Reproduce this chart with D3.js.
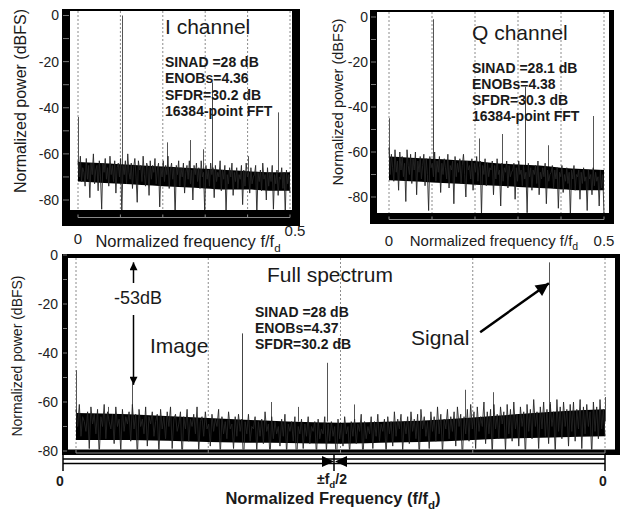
<!DOCTYPE html>
<html><head><meta charset="utf-8">
<script src="https://cdn.jsdelivr.net/npm/d3@7"></script>
<style>
body{margin:0;background:#fff;}
svg{display:block;font-family:"Liberation Sans",Arial,sans-serif;}
</style></head><body>
<svg id="c" width="626" height="511"></svg>
<script>
// ---------------- DATA ----------------
const yTicks = [0, -20, -40, -60, -80];
const minorYTicks = [0, -10, -20, -30, -40, -50, -60, -70, -80];
const halfGrid = [0, 0.1, 0.2, 0.3, 0.4, 0.5];
const fullGrid = [0, 0.25, 0.5, 0.75, 1];
const halfTickValues = [0, 0.5];
const halfTickLabels = ["0", "0.5"];
const fullAxisTicks = [0, 0.5, 1];
const envFreqHalf = [0, 0.05, 0.1, 0.15, 0.2, 0.25, 0.3, 0.35, 0.4, 0.45, 0.5];
const envFreqFull = [0, 0.1, 0.2, 0.3, 0.4, 0.5, 0.6, 0.7, 0.8, 0.9, 1];

// I channel
const iCoreTop = [-63.5, -64, -64.5, -65, -65.5, -66, -66.5, -67, -67.5, -68, -68];
const iCoreBot = [-72, -72.5, -73, -73.5, -74, -74.5, -75, -75.5, -75.5, -76, -76];
const iNoise = [
-63,-70,-61,-72,-66,-68,-74,-62,-71,-65,-79,-64,-69,-60,-73,-67,-65,-76,-63,-70,
-84,-64,-68,-62,-71,-66,-74,-61,-69,-65,-72,-63,-77,-66,-64,-70,-62,-86,-65,-69,
-63,-73,-60,-68,-71,-64,-75,-66,-62,-70,-81,-63,-67,-65,-72,-61,-69,-74,-64,-66,
-78,-63,-71,-65,-68,-62,-73,-67,-64,-83,-66,-70,-63,-72,-65,-69,-61,-75,-67,-64,
-71,-66,-88,-65,-69,-63,-74,-66,-70,-64,-77,-68,-65,-71,-63,-73,-67,-80,-65,-69,
-64,-72,-66,-75,-63,-70,-68,-85,-65,-71,-67,-74,-64,-69,-66,-79,-65,-72,-68,-70,
-63,-76,-67,-71,-65,-86,-69,-73,-66,-70,-64,-78,-68,-72,-66,-75,-69,-71,-65,-82,
-67,-74,-64,-70,-68,-77,-66,-73,-70,-69,-65,-87,-68,-72,-67,-76,-64,-71,-69,-80,
-66,-74,-68,-72,-65,-84,-69,-73,-67,-78,-70,-71,-66,-75,-68,-86,-67,-73,-69,-77];
const iSpurFreq = [0, 0.103, 0.21, 0.264, 0.295, 0.316, 0.40, 0.472];
const iSpurDb   = [-44, 0, -55, -54, -58, -29, -61, -42];
const iStats = ["SINAD =28 dB", "ENOBs=4.36", "SFDR=30.2 dB", "16384-point FFT"];

// Q channel
const qCoreTop = [-62, -62.5, -63, -63.5, -64, -65, -65.5, -66, -67, -67.5, -68];
const qCoreBot = [-72.5, -73, -73.5, -74, -74.5, -75, -75.5, -76, -76.5, -77, -77];
const qNoise = [
-58,-70,-61,-67,-73,-59,-69,-64,-77,-60,-68,-62,-71,-65,-82,-59,-66,-70,-61,-74,
-63,-68,-60,-79,-64,-69,-62,-72,-66,-61,-75,-63,-70,-86,-62,-67,-65,-71,-60,-73,
-64,-69,-62,-78,-65,-70,-63,-67,-72,-61,-76,-66,-68,-64,-83,-62,-71,-65,-69,-63,
-74,-66,-61,-70,-80,-64,-68,-66,-72,-63,-77,-65,-69,-62,-73,-67,-64,-88,-66,-70,
-63,-75,-65,-71,-67,-68,-64,-79,-66,-72,-63,-70,-68,-84,-65,-73,-67,-69,-64,-76,
-66,-71,-69,-68,-65,-81,-67,-73,-64,-70,-68,-75,-66,-72,-69,-87,-65,-71,-67,-77,
-68,-70,-66,-74,-64,-79,-69,-72,-67,-71,-65,-83,-68,-73,-70,-69,-66,-76,-68,-72,
-67,-85,-69,-71,-66,-78,-70,-73,-67,-74,-69,-89,-68,-72,-66,-77,-70,-71,-68,-81,
-69,-74,-67,-73,-71,-86,-68,-72,-70,-79,-67,-75,-69,-73,-71,-84,-68,-76,-70,-88];
const qSpurFreq = [0, 0.102, 0.102, 0.21, 0.262, 0.317, 0.37, 0.475];
const qSpurDb   = [-45, -1, -37, -54, -52, -31, -57, -44];
const qStats = ["SINAD =28.1 dB", "ENOBs=4.38", "SFDR=30.3 dB", "16384-point FFT"];

// Full spectrum
const fCoreTop = [-64.5, -65, -66, -67, -68, -68.5, -68, -67, -65.5, -64, -63];
const fCoreBot = [-75.5, -75.5, -76, -76.5, -76.7, -77, -76.5, -76, -75, -74.5, -74];
const fNoise = [
-63,-70,-61,-74,-66,-68,-72,-64,-79,-62,-69,-65,-73,-63,-82,-66,-70,-61,-75,-64,
-68,-71,-65,-77,-62,-70,-67,-80,-63,-72,-66,-69,-64,-76,-61,-71,-65,-83,-63,-70,
-67,-73,-62,-78,-66,-69,-64,-74,-68,-65,-81,-63,-71,-66,-75,-64,-70,-62,-79,-67,
-65,-72,-69,-64,-84,-66,-71,-63,-76,-67,-70,-65,-73,-62,-80,-68,-66,-74,-64,-71,
-69,-78,-65,-72,-67,-70,-63,-82,-66,-73,-68,-75,-64,-71,-69,-79,-66,-74,-65,-72,
-67,-85,-68,-73,-65,-76,-70,-71,-66,-80,-68,-74,-67,-77,-64,-72,-69,-83,-66,-75,
-68,-73,-70,-78,-67,-74,-65,-81,-69,-72,-68,-76,-66,-85,-70,-73,-67,-79,-69,-74,
-66,-77,-70,-72,-68,-82,-67,-75,-71,-73,-66,-80,-69,-76,-68,-74,-70,-86,-67,-75,
-69,-78,-66,-73,-70,-81,-68,-74,-67,-77,-69,-72,-65,-84,-68,-75,-70,-73,-66,-79,
-68,-74,-65,-76,-69,-72,-67,-82,-66,-73,-68,-78,-64,-74,-67,-71,-65,-80,-68,-73,
-66,-77,-64,-72,-67,-75,-65,-83,-63,-71,-66,-74,-68,-79,-64,-72,-66,-76,-62,-73,
-65,-81,-67,-71,-63,-75,-66,-72,-64,-78,-62,-70,-65,-84,-66,-73,-63,-76,-61,-71,
-64,-79,-62,-72,-66,-70,-60,-77,-64,-73,-63,-82,-61,-71,-65,-75,-62,-69,-64,-80,
-61,-73,-63,-76,-60,-71,-65,-78,-62,-70,-64,-83,-61,-72,-63,-75,-59,-70,-64,-79,
-62,-71,-60,-74,-63,-77,-61,-70,-64,-81,-59,-72,-62,-75,-60,-70,-63,-78,-61,-72,
-60,-76,-63,-71,-59,-79,-62,-73,-61,-70,-64,-82,-60,-72,-62,-75,-59,-71,-63,-74];
const fSpurFreq = [0, 0.06, 0.106, 0.314, 0.369, 0.42, 0.474, 0.526, 0.735, 0.788, 0.894, 0.896, 1.0];
const fSpurDb   = [-47, -62, -52, -32, -60, -62, -44, -61, -55, -56, -3, -60, -58];
const fStats = ["SINAD =28 dB", "ENOBs=4.37", "SFDR=30.2 dB"];
const imageFreq = 0.106, imageTop = -3, imageLevel = -53;
const signalArrowFrom = [0.764, -31.5], signalArrowTo = [0.894, -11.5];

// ---------------- DRAWING ----------------
const svg = d3.select("#c");
const defs = svg.append("defs");
const TXT = "#1a1a1a";

function drawPanel(o) {
  const g = svg.append("g");
  g.append("rect").attr("x", o.outer[0]).attr("y", o.outer[1])
    .attr("width", o.outer[2] - o.outer[0]).attr("height", o.outer[3] - o.outer[1]).attr("fill", "#000");
  g.append("rect").attr("x", o.inner[0]).attr("y", o.inner[1])
    .attr("width", o.inner[2] - o.inner[0]).attr("height", o.inner[3] - o.inner[1]).attr("fill", "#fff");
  defs.append("clipPath").attr("id", o.id).append("rect")
    .attr("x", o.inner[0]).attr("y", o.inner[1])
    .attr("width", o.inner[2] - o.inner[0]).attr("height", o.inner[3] - o.inner[1]);
  const x = d3.scaleLinear(o.xDomain, o.xRange);
  const y = d3.scaleLinear([0, -80], o.yRange);
  const p = g.append("g").attr("clip-path", `url(#${o.id})`);
  p.selectAll(".grid").data(o.grid).join("line")
    .attr("x1", d => x(d)).attr("x2", d => x(d))
    .attr("y1", o.inner[1]).attr("y2", o.inner[3])
    .attr("stroke", "#8c8c8c").attr("stroke-width", 1).attr("stroke-dasharray", "2,2");
  p.selectAll(".spur").data(o.spurFreq).join("line")
    .attr("x1", d => Math.round(x(d)) + 0.5).attr("x2", d => Math.round(x(d)) + 0.5)
    .attr("y1", y(-68)).attr("y2", (d, i) => y(o.spurDb[i]))
    .attr("stroke", (d, i) => o.spurDb[i] > -40 && o.spurDb[i] < -20 ? "#444" : "#555").attr("stroke-width", 1);
  const area = d3.area()
    .x((d, i) => x(o.envFreq[i]))
    .y0((d, i) => y(o.coreBot[i])).y1((d, i) => y(o.coreTop[i]))
    .curve(d3.curveMonotoneX);
  p.append("path").datum(o.coreTop).attr("d", area).attr("fill", "#000");
  const xi = d3.scaleLinear([0, o.noise.length - 1], o.xDomain);
  const line = d3.line().x((d, i) => x(xi(i))).y(d => y(d));
  p.append("path").datum(o.noise).attr("d", line)
    .attr("fill", "none").attr("stroke", "#262626").attr("stroke-width", 0.9);

  g.selectAll(".mt").data(minorYTicks).join("line")
    .attr("x1", o.outer[0] + 1).attr("x2", o.inner[0] - 1)
    .attr("y1", d => y(d)).attr("y2", d => y(d))
    .attr("stroke", "#777").attr("stroke-width", 1);
  g.append("line").attr("x1", x(o.xDomain[0])).attr("x2", x(o.xDomain[1]))
    .attr("y1", o.bandY).attr("y2", o.bandY).attr("stroke", "#8a8a8a").attr("stroke-width", 1);
  g.selectAll(".bt").data(o.grid).join("line")
    .attr("x1", d => x(d)).attr("x2", d => x(d))
    .attr("y1", o.bandY - 3).attr("y2", o.bandY)
    .attr("stroke", "#8a8a8a").attr("stroke-width", 1);

  const ax = g.append("g").attr("transform", `translate(${o.yLabelX},0)`)
    .call(d3.axisLeft(y).tickValues(yTicks).tickSize(0).tickPadding(0).tickFormat(d => String(d)));
  ax.select(".domain").remove();
  ax.attr("font-size", o.tickFs).attr("font-family", "Liberation Sans, Arial, sans-serif");
  ax.selectAll("text").attr("fill", "#222");
  g.append("text").attr("transform", `translate(${o.yTitle[0]},${o.yTitle[1]}) rotate(-90)`)
    .attr("text-anchor", "middle").attr("dominant-baseline", "central")
    .attr("font-size", o.yTitleFs).attr("fill", TXT).text("Normalized power (dBFS)");
  return { x, y, g };
}

function subText(sel, parts, fs) {
  sel.append("tspan").text(parts[0]);
  sel.append("tspan").attr("dy", fs * 0.28).attr("font-size", fs * 0.7).text(parts[1]);
  if (parts[2]) sel.append("tspan").attr("dy", -fs * 0.28).text(parts[2]);
}

// ---- I channel ----
const I = drawPanel({
  id: "clipI", outer: [62, 9, 300, 226], inner: [70, 11, 292, 210],
  xDomain: [0, 0.5], xRange: [78, 290], yRange: [15.5, 200],
  grid: halfGrid, envFreq: envFreqHalf, coreTop: iCoreTop, coreBot: iCoreBot,
  noise: iNoise, spurFreq: iSpurFreq, spurDb: iSpurDb, bandY: 217.5,
  yLabelX: 59, tickFs: 14, yTitle: [20, 101], yTitleFs: 16
});
svg.append("text").attr("x", I.x(halfTickValues[0])).attr("y", 244).attr("text-anchor", "middle")
  .attr("font-size", 15).attr("fill", "#222").text(halfTickLabels[0]);
svg.append("text").attr("x", I.x(halfTickValues[1]) + 5).attr("y", 236).attr("text-anchor", "middle")
  .attr("font-size", 15).attr("fill", "#222").text(halfTickLabels[1]);
subText(svg.append("text").attr("x", 188).attr("y", 247).attr("text-anchor", "middle")
  .attr("font-size", 16.5).attr("fill", TXT), ["Normalized frequency f/f", "d"], 16.5);
svg.append("text").attr("x", 165).attr("y", 34).attr("font-size", 21).attr("fill", TXT).text("I channel");
svg.selectAll(".iStat").data(iStats).join("text")
  .attr("x", 165).attr("y", (d, i) => 67 + i * 16.3)
  .attr("font-size", 14).attr("font-weight", "bold").attr("fill", TXT).text(d => d);

// ---- Q channel ----
const Q = drawPanel({
  id: "clipQ", outer: [370, 10, 614, 224], inner: [377, 12, 609, 213],
  xDomain: [0, 0.5], xRange: [389, 604], yRange: [17, 197],
  grid: halfGrid, envFreq: envFreqHalf, coreTop: qCoreTop, coreBot: qCoreBot,
  noise: qNoise, spurFreq: qSpurFreq, spurDb: qSpurDb, bandY: 219.5,
  yLabelX: 368, tickFs: 14, yTitle: [338, 102], yTitleFs: 14.5
});
svg.selectAll(".qt").data(halfTickValues).join("text")
  .attr("x", d => Q.x(d)).attr("y", 246).attr("text-anchor", "middle")
  .attr("font-size", 15).attr("fill", "#222").text((d, i) => halfTickLabels[i]);
subText(svg.append("text").attr("x", 494).attr("y", 246).attr("text-anchor", "middle")
  .attr("font-size", 15).attr("fill", TXT), ["Normalized frequency f/f", "d"], 15);
svg.append("text").attr("x", 472).attr("y", 40).attr("font-size", 21).attr("fill", TXT).text("Q channel");
svg.selectAll(".qStat").data(qStats).join("text")
  .attr("x", 472).attr("y", (d, i) => 73 + i * 16)
  .attr("font-size", 14).attr("font-weight", "bold").attr("fill", TXT).text(d => d);

// ---- Full spectrum ----
const F = drawPanel({
  id: "clipF", outer: [62, 254, 620, 455], inner: [68, 258, 615, 449.5],
  xDomain: [0, 1], xRange: [76, 605], yRange: [255, 451],
  grid: fullGrid, envFreq: envFreqFull, coreTop: fCoreTop, coreBot: fCoreBot,
  noise: fNoise, spurFreq: fSpurFreq, spurDb: fSpurDb, bandY: 453,
  yLabelX: 58, tickFs: 14, yTitle: [17, 356], yTitleFs: 14
});
svg.append("text").attr("x", 267).attr("y", 282).attr("font-size", 21).attr("fill", TXT).text("Full spectrum");
svg.selectAll(".fStat").data(fStats).join("text")
  .attr("x", 255).attr("y", (d, i) => 317 + i * 16)
  .attr("font-size", 14).attr("font-weight", "bold").attr("fill", TXT).text(d => d);
svg.append("text").attr("x", 150).attr("y", 353).attr("font-size", 21).attr("fill", TXT).text("Image");
svg.append("text").attr("x", 411).attr("y", 345).attr("font-size", 21).attr("fill", TXT).text("Signal");
svg.append("text").attr("x", F.x(imageFreq) + 6).attr("y", 304).attr("text-anchor", "middle")
  .attr("font-size", 18).attr("fill", TXT).text(imageLevel + "dB");

defs.append("marker").attr("id", "ahS").attr("viewBox", "0 0 10 10").attr("refX", 10).attr("refY", 5)
  .attr("markerUnits", "userSpaceOnUse").attr("markerWidth", 10).attr("markerHeight", 8).attr("orient", "auto")
  .append("path").attr("d", "M0,0 L10,5 L0,10 Z").attr("fill", "#000");
defs.append("marker").attr("id", "ahL").attr("viewBox", "0 0 10 10").attr("refX", 10).attr("refY", 5)
  .attr("markerUnits", "userSpaceOnUse").attr("markerWidth", 16).attr("markerHeight", 13).attr("orient", "auto")
  .append("path").attr("d", "M0,0 L10,5 L0,10 Z").attr("fill", "#000");

const ix = Math.round(F.x(imageFreq)) + 1.5;
svg.append("line").attr("x1", ix).attr("x2", ix).attr("y1", 283).attr("y2", F.y(imageTop))
  .attr("stroke", "#000").attr("stroke-width", 1.5).attr("marker-end", "url(#ahS)");
svg.append("line").attr("x1", ix).attr("x2", ix).attr("y1", 315).attr("y2", F.y(imageLevel))
  .attr("stroke", "#000").attr("stroke-width", 1.5).attr("marker-end", "url(#ahS)");
svg.append("line")
  .attr("x1", F.x(signalArrowFrom[0])).attr("y1", F.y(signalArrowFrom[1]))
  .attr("x2", F.x(signalArrowTo[0])).attr("y2", F.y(signalArrowTo[1]))
  .attr("stroke", "#000").attr("stroke-width", 2.5).attr("marker-end", "url(#ahL)");

const xa = d3.scaleLinear([0, 1], [63, 605]);
[459, 463.5].forEach(yy => svg.append("line").attr("x1", xa(0)).attr("x2", xa(1))
  .attr("y1", yy).attr("y2", yy).attr("stroke", "#000").attr("stroke-width", 1.5));
svg.selectAll(".fat").data(fullAxisTicks).join("line")
  .attr("x1", d => xa(d)).attr("x2", d => xa(d)).attr("y1", 455).attr("y2", 471)
  .attr("stroke", "#000").attr("stroke-width", 1.5);
const cx = xa(0.5);
svg.append("path").attr("d", `M${cx - 12},456 L${cx},461.5 L${cx - 12},467 Z`).attr("fill", "#000");
svg.append("path").attr("d", `M${cx + 13},456 L${cx + 1},461.5 L${cx + 13},467 Z`).attr("fill", "#000");
svg.append("text").attr("x", xa(0) - 3).attr("y", 486).attr("text-anchor", "middle")
  .attr("font-size", 14).attr("font-weight", "bold").attr("fill", TXT).text("0");
svg.append("text").attr("x", xa(1) - 2).attr("y", 486).attr("text-anchor", "middle")
  .attr("font-size", 14).attr("font-weight", "bold").attr("fill", TXT).text("0");
subText(svg.append("text").attr("x", cx - 2).attr("y", 484).attr("text-anchor", "middle")
  .attr("font-size", 14).attr("font-weight", "bold").attr("fill", TXT), ["±f", "d", "/2"], 14);
subText(svg.append("text").attr("x", 333).attr("y", 504).attr("text-anchor", "middle")
  .attr("font-size", 16.5).attr("font-weight", "bold").attr("fill", TXT), ["Normalized Frequency (f/f", "d", ")"], 16.5);
</script>
</body></html>
